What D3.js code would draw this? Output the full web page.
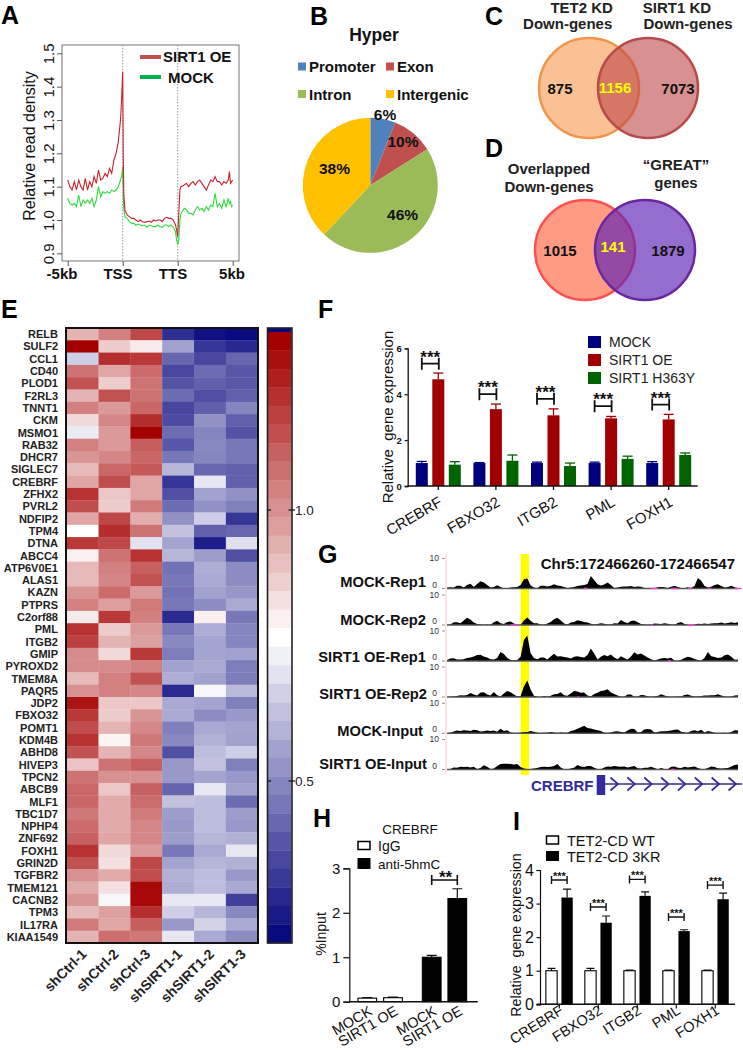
<!DOCTYPE html>
<html><head><meta charset="utf-8">
<script src="https://cdn.jsdelivr.net/npm/d3@7/dist/d3.min.js"></script>
<style>
html,body{margin:0;padding:0;background:#fff}
text{font-family:"Liberation Sans",Arial,sans-serif;fill:#111;white-space:pre}
</style></head><body><svg id="c" width="743" height="1050"></svg>
<script>
// ---------- Panel A
const posA=[0,2,4,6,8,10,12,14,16,18,20,22,24,26,28,30,32,34,36,38,40,42,44,46,48,49,50,50.5,51,52,54,56,58,60,62,64,66,68,70,72,74,76,78,80,82,84,86,88,90,92,94,96,98,99,100,101,102,103,106,108,110,112,114,116,118,120,122,124,126,128,130,132,134,136,138,140,142,144,146,147,148,149,150];
const sirtA=[1.12,1.10,1.09,1.115,1.09,1.12,1.10,1.09,1.125,1.09,1.115,1.10,1.13,1.11,1.15,1.12,1.125,1.14,1.13,1.155,1.14,1.18,1.20,1.235,1.30,1.36,1.445,1.20,1.08,1.03,1.015,1.01,1.005,1.005,1.0,0.995,1.0,0.995,0.993,0.995,0.997,0.993,1.0,0.997,1.0,1.0,0.995,1.005,1.008,1.005,1.005,1.0,0.985,0.97,0.95,1.02,1.09,1.10,1.105,1.11,1.10,1.11,1.115,1.105,1.115,1.12,1.11,1.10,1.09,1.105,1.12,1.115,1.13,1.115,1.115,1.105,1.115,1.11,1.12,1.145,1.11,1.115,1.12];
const mockA=[1.065,1.05,1.045,1.05,1.04,1.075,1.04,1.06,1.05,1.06,1.05,1.065,1.04,1.06,1.10,1.07,1.085,1.08,1.085,1.08,1.09,1.085,1.09,1.10,1.12,1.13,1.16,1.08,1.035,1.01,1.005,0.995,0.99,0.99,0.985,0.988,0.985,0.983,0.985,0.978,0.985,0.983,0.98,0.98,0.985,0.98,0.978,0.985,0.985,0.98,0.985,0.978,0.965,0.94,0.925,0.94,1.0,1.02,1.035,1.03,1.02,1.02,1.015,1.03,1.04,1.03,1.035,1.025,1.04,1.03,1.045,1.04,1.08,1.04,1.05,1.035,1.06,1.04,1.065,1.05,1.055,1.04,1.045];
const ticksA=[0.9,1.0,1.1,1.2,1.3,1.4,1.5];
const xTicksA=[["-5kb",0],["TSS",50],["TTS",100],["5kb",150]];
// ---------- Panel B
const pieNames=["Promoter","Exon","Intron","Intergenic"];
const pieValues=[6,10,46,38];
const pieColors=["#4f81bd","#c0504d","#9bbb59","#ffc000"];
// ---------- Panels C, D
const vennC=["875","1156","7073"];
const vennD=["1015","141","1879"];
// ---------- Panel E
const genes=["RELB","SULF2","CCL1","CD40","PLOD1","F2RL3","TNNT1","CKM","MSMO1","RAB32","DHCR7","SIGLEC7","CREBRF","ZFHX2","PVRL2","NDFIP2","TPM4","DTNA","ABCC4","ATP6V0E1","ALAS1","KAZN","PTPRS","C2orf88","PML","ITGB2","GMIP","PYROXD2","TMEM8A","PAQR5","JDP2","FBXO32","POMT1","KDM4B","ABHD8","HIVEP3","TPCN2","ABCB9","MLF1","TBC1D7","NPHP4","ZNF692","FOXH1","GRIN2D","TGFBR2","TMEM121","CACNB2","TPM3","IL17RA","KIAA1549"];
const samples=["shCtrl-1","shCtrl-2","shCtrl-3","shSIRT1-1","shSIRT1-2","shSIRT1-3"];
const heatValues=[
[.3,.5,.72,-.85,-.97,-1],[1,.2,.08,-.38,-.82,-.88],[-.2,.82,.78,-.62,-.75,-.62],[.55,.35,.58,-.75,-.6,-.68],[.68,.2,.55,-.7,-.65,-.68],
[.3,.68,.55,-.6,-.72,-.65],[.5,.4,.6,-.75,-.65,-.5],[.15,.47,.82,-.73,-.45,-.65],[-.08,.4,1,-.6,-.5,-.7],[.5,.4,.63,-.68,-.48,-.55],
[.42,.47,.6,-.55,-.5,-.55],[.27,.6,.65,-.3,-.62,-.65],[.35,.7,.35,-.82,-.1,-.65],[.8,.22,.35,-.72,-.38,-.45],[.7,.2,.52,-.6,-.45,-.52],
[.35,.72,.32,-.45,-.2,-.82],[0,.82,.55,-.25,-.65,-.62],[.78,.72,-.12,-.37,-.92,-.13],[.06,.55,.8,-.3,-.4,-.72],[.28,.5,.62,-.58,-.33,-.47],
[.27,.48,.68,-.55,-.35,-.47],[.42,.58,.4,-.58,-.38,-.43],[.5,.38,.52,-.55,-.47,-.35],[.08,.78,.5,-.87,.06,-.55],[.8,.2,.4,-.55,-.33,-.5],
[.75,.3,.37,-.48,-.37,-.5],[.45,.15,.78,-.53,-.37,-.38],[.45,.45,.5,-.38,-.35,-.53],[.27,.5,.68,-.33,-.38,-.53],[.43,.5,.47,-.87,-.03,-.28],
[.92,.22,.22,-.35,-.37,-.52],[.78,.2,.42,-.35,-.47,-.42],[.7,.3,.47,-.52,-.35,-.37],[.8,.04,.53,-.48,-.32,-.38],[.68,.3,.47,-.72,-.27,-.2],
[.23,.55,.62,-.42,-.25,-.52],[.55,.43,.43,-.42,-.37,-.42],[.6,.22,.62,-.63,-.1,-.38],[.6,.33,.58,-.25,-.27,-.6],[.53,.33,.52,-.4,-.27,-.4],
[.58,.33,.47,-.42,-.27,-.42],[.62,.35,.47,-.4,-.3,-.32],[.8,.15,.4,-.55,-.35,-.1],[.68,.12,.72,-.37,-.3,-.32],[.43,.33,.7,-.32,-.27,-.42],
[.33,.12,.97,-.33,-.27,-.35],[.42,-.03,.97,-.1,-.1,-.78],[.27,.37,.82,-.2,-.3,-.48],[.52,.35,.63,-.42,-.18,-.35],[.3,.57,.53,-.1,-.35,-.47]];
const barLevels=[-1,1,.94,.88,.81,.75,.69,.62,.56,.5,.44,.38,.31,.25,.19,.12,.06,0,-.06,-.12,-.19,-.25,-.31,-.38,-.44,-.5,-.56,-.62,-.69,-.75,-.81,-.88,-.94,-1];
// ---------- Panel F
const genesF=["CREBRF","FBXO32","ITGB2","PML","FOXH1"];
const seriesF=["MOCK","SIRT1 OE","SIRT1 H363Y"];
const colorsF=["#00007f","#a00000","#006400"];
const valuesF=[[1,1,1,1,1],[4.65,3.35,3.08,2.95,2.9],[.93,1.1,.87,1.18,1.35]];
const errorsF=[[.07,.02,.04,.04,.06],[.27,.22,.28,.08,.22],[.13,.25,.13,.12,.09]];
const bracketF=[5.33,4.0,3.8,3.48,3.55];
const ticksF=[0,2,4,6];
// ---------- Panel G
const trackNames=["MOCK-Rep1","MOCK-Rep2","SIRT1 OE-Rep1","SIRT1 OE-Rep2","MOCK-Input","SIRT1 OE-Input"];
const track1=[.3,.4,.3,.9,.9,.3,1.2,1.6,.5,1.5,2.4,2,1.2,.3,.5,1.1,.5,0,.1,.3,.4,.5,1.2,3.1,3.3,1,.3,.1,.9,.9,.7,.9,1.4,1,.8,.5,.2,.3,.5,.8,1,1.2,1.5,4.2,2.8,1.4,1,1.3,2,1.2,.2,.3,.6,.7,.7,.8,.5,.7,.6,.2,.1,0,.1,.4,.5,.4,.2,.6,.9,.5,.2,.1,.4,.2,.8,3.5,2.6,.8,.3,.6,1.2,1.4,.8,.3,.5,.9,.4,0];
const track2=[.1,.2,.9,.9,.6,1.5,2.4,1.8,.8,.3,.2,.1,.2,.1,.9,1.4,.6,.3,1,1.2,.5,0,0,1.5,2.5,1.4,.6,.6,.2,.1,.5,1,1.9,2.4,1.5,.5,.2,.8,1,1.6,1.3,1,.8,.4,.2,.3,.6,.4,.2,.2,.6,.5,1.7,1,.6,1.3,1.5,.9,.3,.2,.1,.2,.5,.4,.3,.6,.4,.2,.1,.7,1,.3,0,0,.1,.4,.3,.5,.3,.5,.6,.6,.8,.5,.7,.9,.7,.9];
const track3=[.3,.8,.9,.5,.5,.6,1,1.2,1.5,2,2.1,1.5,1.2,.6,.5,1,3,2.3,1.1,.3,.2,.3,1.4,7,8.5,2.6,1,.6,1.2,1.2,.5,1.5,2.4,1.5,1.6,1.3,1.2,.8,1.4,1.6,1.3,1.2,2,4.2,2.5,.5,1.4,2,1.6,2.2,1.2,.6,1.6,1,.5,1.5,2.9,2.2,2.5,1.8,1.2,.6,.2,.5,.8,1,.8,1.1,.2,0,.4,1,1.4,1.2,.7,.3,.2,1,3,1.6,1.3,1,1.2,1.9,2.2,1.4,.4,.5];
const track4=[0,.1,.2,.3,.6,.5,.7,1.3,.8,.5,1.5,1.6,.8,.5,1.7,.6,.2,1.2,2,1.6,.8,.2,.3,3.5,5.5,2.5,.4,.1,0,.3,.1,.4,.9,1,1.6,.6,.4,1.2,2,1.8,1.4,1.5,.5,.2,1,1.4,2,2.2,2.6,1.5,1,.5,.1,.1,.8,.8,.1,.2,.7,.6,.2,.1,.2,.3,.9,.5,.2,.1,.1,.2,.2,.7,.8,.4,.2,.2,.3,.5,.5,.6,.6,.9,.5,.2,.1,.2,.5,.6];
const track5=[.1,.2,.6,.9,.8,1,.9,.8,1.2,1,.6,.7,.9,.8,.9,.5,1.5,.8,1,.3,.1,0,.2,.4,.4,.8,.5,.2,.1,.2,.2,.4,.3,.1,.3,.2,.2,.8,1,1.5,2,2.5,1.8,1.6,1.3,1,.8,.2,.1,.3,.6,.7,.4,.3,.9,1.5,1.4,.3,.4,1.3,1.4,1.3,.3,.4,.7,.7,.8,.9,1.2,1.3,.5,.3,.2,.8,1,.7,1.2,.3,.8,.5,.2,.1,.1,.2,.1,.4,1,.9];
const track6=[.1,.2,.7,.6,.9,.8,.9,.7,.9,.2,.5,1.4,.9,.2,.3,1.2,1.8,1.9,1.9,1.8,1.7,1.8,.8,.3,.1,.2,.3,.5,.8,.9,.8,.9,1.2,1.8,.7,.1,.1,.3,.6,1.5,1,.8,1.2,1.2,.6,.2,.1,.7,1,.9,1.2,1,.9,1,.7,.9,1.2,.4,.3,.6,.6,.9,.5,.1,.5,.2,.1,.9,1,.6,.5,.9,.7,.8,1,.5,.2,.2,.5,1,.8,.4,.3,.4,.5,1,1.5,1.7];
const tracks=[track1,track2,track3,track4,track5,track6];
const gaps=[[[41,42],[61,63],[67,69],[72,73],[78,79],[86,88]],[[19,21],[61,61.5],[72,74]],[[66,67]],[[39,39.5]],[],[[67,68]]];
const chevrons=[1,2,3,4,5,6,7,8];
// ---------- Panel H
const catsH=["MOCK","SIRT1 OE","MOCK ","SIRT1 OE "];
const valuesH=[.08,.09,1.0,2.32];
const errorsH=[.01,.015,.04,.22];
const ticksH=[0,1,2,3];
// ---------- Panel I
const genesI=["CREBRF","FBXO32","ITGB2","PML","FOXH1"];
const seriesI=["TET2-CD WT","TET2-CD 3KR"];
const wtI=[1,1,1,1,1];
const wtErrI=[.07,.07,.02,.02,.02];
const krI=[3.18,2.43,3.23,2.18,3.13];
const krErrI=[.25,.2,.12,.04,.18];
const bracketI=[3.7,2.9,3.72,2.6,3.55];
const ticksI=[0,1,2,3,4];

const svg=d3.select("#c");
const txt=(g,x,y,s,size,o={})=>{const t=g.append("text").attr("x",x).attr("y",y).attr("font-size",size).attr("font-weight",o.w||"normal").attr("text-anchor",o.a||"start").style("fill",o.f||"#111").text(s);if(o.r!==undefined)t.attr("transform",`rotate(${o.r} ${x} ${y})`);return t;};
const letters=[["A",1,24],["B",310,25],["C",485,25],["D",485,157],["E",1,318],["F",318,318],["G",318,563],["H",313,827],["I",513,830]];
letters.forEach(l=>txt(svg,l[1],l[2],l[0],25,{w:"bold",f:"#000"}));

// ---- A
{const g=svg.append("g");
const x=d3.scaleLinear().domain([0,150]).range([67.7,232.7]);
const y=d3.scaleLinear().domain([1,1.5]).range([220,53.3]);
g.append("rect").attr("x",62).attr("y",45).attr("width",177).attr("height",216).attr("fill","none").attr("stroke","#777").attr("stroke-width",1);
[50,100].forEach(v=>g.append("line").attr("x1",x(v)).attr("x2",x(v)).attr("y1",45).attr("y2",261).attr("stroke","#999").attr("stroke-dasharray","1.5,1.5"));
const line=d3.line().x((d,i)=>x(posA[i])).y(d=>y(d));
g.append("path").attr("d",line(mockA)).attr("fill","none").attr("stroke","#2fdc3c").attr("stroke-width",1.1);
g.append("path").attr("d",line(sirtA)).attr("fill","none").attr("stroke","#c8232c").attr("stroke-width",1.1);
const ya=g.append("g").attr("transform","translate(62,0)").call(d3.axisLeft(y).tickValues(ticksA).tickSize(5).tickFormat(d3.format(".1f")));
ya.select(".domain").remove();ya.selectAll("line").attr("stroke","#555");
ya.selectAll("text").attr("x",0).attr("y",0).attr("dy",0).attr("text-anchor","middle").attr("font-size",15).attr("font-family",null)
 .attr("transform","translate(-8,0) rotate(-90)");
const xa=g.append("g").attr("transform","translate(0,261)").call(d3.axisBottom(x).tickValues(xTicksA.map(d=>d[1])).tickSize(5).tickFormat(()=>""));
xa.select(".domain").remove();xa.selectAll("line").attr("stroke","#555");
[62,118,173,232].forEach((px,i)=>txt(g,px,279,xTicksA[i][0],15,{w:"bold",a:"middle"}));
txt(g,34.5,146,"Relative read density",16,{a:"middle",r:-90});
g.append("line").attr("x1",140).attr("x2",161).attr("y1",57).attr("y2",57).attr("stroke","#c0504d").attr("stroke-width",4);
g.append("line").attr("x1",140).attr("x2",161).attr("y1",77).attr("y2",77).attr("stroke","#00b050").attr("stroke-width",4);
txt(g,163,62,"SIRT1 OE",15,{w:"bold"});txt(g,168,82.5,"MOCK",15,{w:"bold"});}

// ---- B
{const g=svg.append("g").attr("transform","translate(370.3,185.3)");
const pie=d3.pie().sort(null)(pieValues);
const arc=d3.arc().innerRadius(0).outerRadius(67.5);
g.selectAll("path").data(pie).join("path").attr("d",arc).attr("fill",(d,i)=>pieColors[i]);
const posLab=[[385,119.5],[403,147],[402.6,220],[334.5,174]];
pieValues.forEach((v,i)=>txt(svg,posLab[i][0],posLab[i][1],v+"%",15.5,{w:"bold",a:"middle",f:"#111"}));
txt(svg,374,41,"Hyper",17.5,{w:"bold",a:"middle"});
const lx=[298,386,298,386],ly=[66.5,66.5,94,94],tx=[309,397,309,397];
pieNames.forEach((n,i)=>{svg.append("rect").attr("x",lx[i]).attr("y",ly[i]-4).attr("width",8).attr("height",8).attr("fill",pieColors[i]);
txt(svg,tx[i],ly[i]+5.5,n,15,{w:"bold"});});}

// ---- C, D
function venn(cx1,cx2,cy,r,f1,s1,f2,s2,vals,lx){
const g=svg.append("g");
g.append("circle").attr("cx",cx1).attr("cy",cy).attr("r",r).attr("fill",f1).attr("stroke",s1).attr("stroke-width",2.5);
g.append("circle").attr("cx",cx2).attr("cy",cy).attr("r",r).attr("fill",f2).attr("stroke",s2).attr("stroke-width",2.5);
txt(g,lx[0],cy+.5+lx[3],vals[0],15,{w:"bold",a:"middle"});
txt(g,lx[1],cy+lx[3]-(lx[4]||0),vals[1],15,{w:"bold",a:"middle",f:"#ffff00"});
txt(g,lx[2],cy+.5+lx[3],vals[2],15,{w:"bold",a:"middle"});}
venn(589,648,88,50,"rgba(247,160,90,.65)","#f0954a","rgba(190,70,70,.6)","#b84a4a",vennC,[560,615,678,5]);
venn(585,645,250,50,"rgba(255,120,90,.75)","#ff5050","rgba(90,30,180,.65)","#6a28a0",vennD,[560,613,668,5,3]);
[[581.7,12.5,"TET2 KD"],[567.7,29,"Down-genes"],[677,12.5,"SIRT1 KD"],[688,29,"Down-genes"],[549,174,"Overlapped"],[549,192,"Down-genes"],[676,170,"“GREAT”"],[676,188,"genes"]]
 .forEach(d=>txt(svg,d[0],d[1],d[2],15,{w:"bold",a:"middle",f:"#222"}));

// ---- E
{const g=svg.append("g");
const x=d3.scaleBand().domain(samples).range([66.7,257.7]);
const y=d3.scaleBand().domain(genes).range([328,943]);
const col=d3.scaleLinear().domain([-1,0,1]).range(["#0a0a80","#ffffff","#a50000"]);
genes.forEach((n,r)=>samples.forEach((s,c)=>g.append("rect").attr("x",x(s)).attr("y",y(n)).attr("width",x.bandwidth()+.3).attr("height",y.bandwidth()+.3).attr("fill",col(heatValues[r][c]))));
g.append("rect").attr("x",66).attr("y",328).attr("width",192).attr("height",615).attr("fill","none").attr("stroke","#111").attr("stroke-width",2);
genes.forEach(n=>txt(g,58,y(n)+y.bandwidth()/2+4,n,11,{w:"bold",a:"end",f:"#222"}));
samples.forEach(s=>txt(g,x(s)+x.bandwidth()/2+5,955,s,14,{w:"bold",a:"end",r:-45,f:"#222"}));
const hgt=(943-332)/(barLevels.length-1);
barLevels.forEach((v,i)=>{const top=i===0?328:332+(i-1)*hgt;const bot=i===0?332:332+i*hgt;
g.append("rect").attr("x",268).attr("y",top).attr("width",23.5).attr("height",bot-top+.3).attr("fill",col(v));});
g.append("rect").attr("x",267.5).attr("y",328).attr("width",24.5).attr("height",615).attr("fill","none").attr("stroke","#222").attr("stroke-width",1.6);
[[510,"1.0"],[781,"0.5"]].forEach(d=>{
[[268,271],[288.5,292],[292,295]].forEach(s=>g.append("line").attr("x1",s[0]).attr("x2",s[1]).attr("y1",d[0]).attr("y2",d[0]).attr("stroke","#111").attr("stroke-width",1.2));
txt(g,295,d[0]+5,d[1],13.5,{w:"normal",f:"#222"});});}

// ---- F
{const g=svg.append("g");
const y=d3.scaleLinear().domain([0,6]).range([486,348.3]);
const x=d3.scaleBand().domain(genesF).range([409.5,697.5]);
const bx=d3.scalePoint().domain(seriesF).range([-16.5,16.5]);
const bw=12;
seriesF.forEach((s,si)=>genesF.forEach((n,i)=>{const cx=x(n)+x.bandwidth()/2+bx(s);const v=valuesF[si][i],e=errorsF[si][i];
g.append("line").attr("x1",cx).attr("x2",cx).attr("y1",y(v)).attr("y2",y(v+e)).attr("stroke",colorsF[si]).attr("stroke-width",1.3);
g.append("line").attr("x1",cx-5).attr("x2",cx+5).attr("y1",y(v+e)).attr("y2",y(v+e)).attr("stroke",colorsF[si]).attr("stroke-width",1.3);
g.append("rect").attr("x",cx-bw/2).attr("y",y(v)).attr("width",bw).attr("height",y(0)-y(v)).attr("fill",colorsF[si]);}));
const ya=g.append("g").attr("transform","translate(407.7,0)").call(d3.axisLeft(y).tickValues(ticksF).tickSize(3).tickFormat(d3.format("d")));
ya.selectAll("path,line").attr("stroke","#111").attr("stroke-width",1.3);ya.selectAll("text").attr("font-size",9.5).attr("font-weight","bold").attr("font-family",null);
const xa=g.append("g").attr("transform","translate(0,486)").call(d3.axisBottom(x).tickSize(4).tickFormat(""));
xa.selectAll("path,line").attr("stroke","#111").attr("stroke-width",1.3);xa.select(".domain").attr("d","M407.7,0H697.7");
genesF.forEach((n,i)=>{const cx=x(n)+x.bandwidth()/2;
txt(g,cx+5,505,n,15,{a:"end",r:-30});
const yb=y(bracketF[i]);
g.append("path").attr("d",`M${cx-16.5},${yb-6}V${yb+6}M${cx-16.5},${yb}H${cx+.5}M${cx+.5},${yb-6}V${yb+6}`).attr("fill","none").attr("stroke","#111").attr("stroke-width",1.8);
txt(g,cx-8,yb-1,"***",17,{w:"bold",a:"middle"});});
txt(g,393,417,"Relative  gene expression",15,{a:"middle",r:-90});
seriesF.forEach((s,i)=>{g.append("rect").attr("x",588).attr("y",336+18*i).attr("width",13).attr("height",12).attr("fill",colorsF[i]);
txt(g,609,347+18*i,s,14,{f:"#222"});});}

// ---- G
{const g=svg.append("g");
const x=d3.scaleLinear().domain([0,87]).range([447,738]);
const base=[588.5,625,661,697,733.3,769.5];
const y=d3.scaleLinear().domain([0,10]).range([0,-30]);
g.append("rect").attr("x",520.7).attr("y",554).attr("width",8.3).attr("height",221).attr("fill","#ffff00");
g.append("line").attr("x1",446).attr("x2",446).attr("y1",554).attr("y2",775).attr("stroke","#f7d5d5").attr("stroke-width",1.2);
const area=d3.area().x((d,i)=>x(i)).y0(0).y1(d=>y(d));
tracks.forEach((t,k)=>{const tr=g.append("g").attr("transform",`translate(0,${base[k]})`);
tr.append("path").attr("d",area(t)).attr("fill","#000");
tr.append("line").attr("x1",447).attr("x2",738).attr("y1",0).attr("y2",0).attr("stroke","#555").attr("stroke-width",1.4);
gaps[k].forEach(p=>tr.append("line").attr("x1",x(p[0])).attr("x2",x(p[1])).attr("y1",0).attr("y2",0).attr("stroke","#ff40e0").attr("stroke-width",1.4));
txt(tr,437,-1,"0",8.5,{a:"end",f:"#333"});txt(tr,439,-27.5,"10",8.5,{a:"end",f:"#333"});
[[442,445,0],[442,445,-30]].forEach(s=>tr.append("line").attr("x1",s[0]).attr("x2",s[1]).attr("y1",s[2]).attr("y2",s[2]).attr("stroke","#777").attr("stroke-width",.8));});
const lxG=[426,426,426,427,423,427],lyG=[587,625,662,699,736,769];
trackNames.forEach((n,i)=>txt(g,lxG[i],lyG[i],n,14.7,{w:"bold",a:"end"}));
txt(g,540.7,569,"Chr5:172466260-172466547",15,{w:"bold"});
const blue="#352a9c";
txt(g,531,790.5,"CREBRF",15,{w:"bold",f:blue});
g.append("rect").attr("x",596.7).attr("y",775).attr("width",8.5).attr("height",20).attr("fill",blue);
g.append("line").attr("x1",605).attr("x2",742).attr("y1",784).attr("y2",784).attr("stroke",blue).attr("stroke-width",1.6);
const cs=d3.scaleLinear().domain([1,8]).range([614,732]);
chevrons.forEach(c=>g.append("path").attr("d",`M${cs(c)-3.5},${784-6.5}L${cs(c)+4},784L${cs(c)-3.5},${784+6.5}`).attr("fill","none").attr("stroke",blue).attr("stroke-width",1.7));}

// ---- H
{const g=svg.append("g");
const y=d3.scaleLinear().domain([0,3]).range([1001.7,868.3]);
const xs=d3.scaleOrdinal().domain(catsH).range([367.3,393,431.7,457.3]);
catsH.forEach((c,i)=>{const cx=xs(c),v=valuesH[i],e=errorsH[i];const w=18.7;
g.append("path").attr("d",`M${cx},${y(v)}V${y(v+e)}M${cx-5},${y(v+e)}H${cx+5}`).attr("stroke","#111").attr("stroke-width",1.2);
g.append("rect").attr("x",cx-w/2).attr("y",y(v)).attr("width",w).attr("height",y(0)-y(v)).attr("fill",i<2?"#fff":"#000").attr("stroke","#000").attr("stroke-width",1.1);
txt(g,cx+6,1014,c.trim(),14.5,{a:"end",r:-30});});
const ya=g.append("g").attr("transform","translate(349.3,0)").call(d3.axisLeft(y).tickValues(ticksH).tickSize(6).tickFormat(d3.format("d")));
ya.selectAll("path,line").attr("stroke","#111").attr("stroke-width",1.2);ya.selectAll("text").attr("font-size",15).attr("font-family",null);
g.append("path").attr("d","M349.3,1001.7H477.7").attr("stroke","#111").attr("stroke-width",1.6);
g.append("path").attr("d","M431.7,875V885M431.7,880H457.3M457.3,875V885").attr("stroke","#111").attr("stroke-width",1.6).attr("fill","none");
txt(g,445.5,883,"**",17,{w:"bold",a:"middle"});
txt(g,326,934,"%Input",14,{a:"middle",r:-90});
txt(g,410,834,"CREBRF",13.5,{a:"middle"});
g.append("rect").attr("x",358).attr("y",841.5).attr("width",12).attr("height",8).attr("fill","#fff").attr("stroke","#000").attr("stroke-width",1.5);
g.append("rect").attr("x",357.5).attr("y",858).attr("width",13).attr("height",11).attr("fill","#000");
txt(g,378,851,"IgG",14);txt(g,378,869,"anti-5hmC",13.5);}

// ---- I
{const g=svg.append("g");
const y=d3.scaleLinear().domain([0,4]).range([1004.3,870]);
const x=d3.scaleBand().domain(genesI).range([530,725]);
const w=11.3;
const dx=x(genesI[0])+x.bandwidth()/2;
genesI.forEach((n,i)=>{const c=x(n)+x.bandwidth()/2-dx+559.3;
const a=c-7.8,b=c+7.8;
g.append("path").attr("d",`M${a},${y(wtI[i])}V${y(wtI[i]+wtErrI[i])}M${a-4},${y(wtI[i]+wtErrI[i])}H${a+4}`).attr("stroke","#111").attr("stroke-width",1.2);
g.append("rect").attr("x",a-w/2).attr("y",y(wtI[i])).attr("width",w).attr("height",y(0)-y(wtI[i])).attr("fill","#fff").attr("stroke","#000").attr("stroke-width",1.1);
g.append("path").attr("d",`M${b},${y(krI[i])}V${y(krI[i]+krErrI[i])}M${b-4},${y(krI[i]+krErrI[i])}H${b+4}`).attr("stroke","#111").attr("stroke-width",1.2);
g.append("rect").attr("x",b-w/2).attr("y",y(krI[i])).attr("width",w).attr("height",y(0)-y(krI[i])).attr("fill","#000");
g.append("line").attr("x1",c).attr("x2",c).attr("y1",1004.3).attr("y2",1008.5).attr("stroke","#111").attr("stroke-width",1.2);
const yb=y(bracketI[i]);
g.append("path").attr("d",`M${a},${yb-4}V${yb+4}M${a},${yb}H${b}M${b},${yb-4}V${yb+4}`).attr("fill","none").attr("stroke","#111").attr("stroke-width",1.4);
txt(g,c,yb+0,"***",11,{w:"bold",a:"middle"});
txt(g,c+5,1013,n,14.5,{a:"end",r:-32});});
const ya=g.append("g").attr("transform","translate(540,0)").call(d3.axisLeft(y).tickValues(ticksI).tickSize(3.5).tickFormat(d3.format("d")));
ya.selectAll("path,line").attr("stroke","#111").attr("stroke-width",1.2);ya.selectAll("text").attr("font-size",16).attr("font-family",null).attr("x",-6);
g.append("path").attr("d","M536.7,1004.3H735").attr("stroke","#111").attr("stroke-width",1.6);
txt(g,521,935,"Relative  gene expression",14.2,{a:"middle",r:-90});
g.append("rect").attr("x",546.5).attr("y",836).attr("width",12).attr("height",8).attr("fill","#fff").attr("stroke","#000").attr("stroke-width",1.5);
g.append("rect").attr("x",546).attr("y",851).attr("width",13).attr("height",10).attr("fill","#000");
txt(g,567,845.5,seriesI[0],14.5);txt(g,567,862,seriesI[1],14.5);}
</script></body></html>
